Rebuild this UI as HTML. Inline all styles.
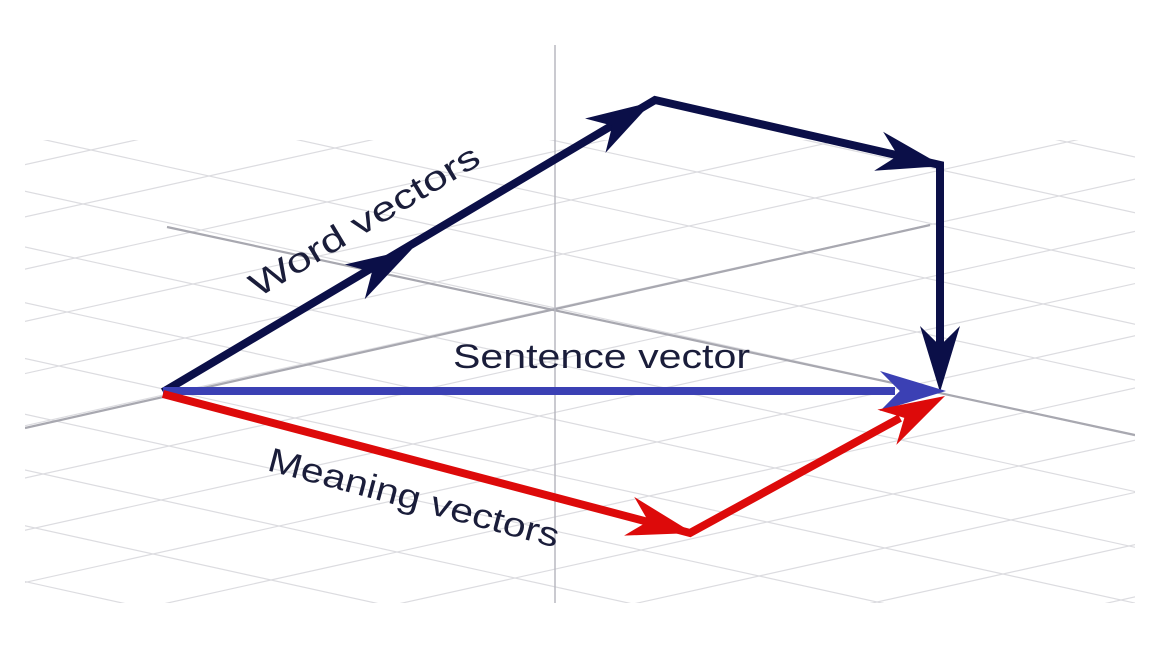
<!DOCTYPE html>
<html><head><meta charset="utf-8"><style>
html,body{margin:0;padding:0;background:#fff;width:1152px;height:648px;overflow:hidden}
svg{display:block}
svg text{font-family:"Liberation Sans",sans-serif;fill:#1a1d3a}
</style></head><body>
<svg id="s" width="1152" height="648" viewBox="0 0 1152 648" xmlns="http://www.w3.org/2000/svg">
<defs><clipPath id="c"><rect x="25" y="140" width="1110" height="463"/></clipPath></defs>
<g id="grid" clip-path="url(#c)" stroke="#dcdce0" stroke-width="1.2"></g>
<g clip-path="url(#c)" stroke="#a8a8b0" stroke-width="2.2">
<line x1="25" y1="428" x2="930" y2="225"/>
<line x1="167" y1="227" x2="1135" y2="435"/>
</g>
<line x1="555" y1="45" x2="555" y2="603" stroke="#b8b8c0" stroke-width="1.5"/>

<g stroke-linecap="butt" fill="none" stroke-width="8">
<polyline points="163,392 655,100 940,165 940,360" stroke="#0b0f48"/>
<line x1="163" y1="391" x2="895" y2="391" stroke="#3b40b4"/>
<polyline points="163,394 690,533 900,418" stroke="#dd0a0a"/>
</g>
<g id="heads"></g>

<text x="0" y="0" font-size="34" textLength="262" lengthAdjust="spacingAndGlyphs" transform="translate(258,298) rotate(-31)">Word vectors</text>
<text x="453" y="368" font-size="34" textLength="297" lengthAdjust="spacingAndGlyphs">Sentence vector</text>
<text x="0" y="0" font-size="34" textLength="300" lengthAdjust="spacingAndGlyphs" transform="translate(266,470) rotate(15)">Meaning vectors</text>
</svg>
<script>
var ns='http://www.w3.org/2000/svg';
var g=document.getElementById('grid'),O=[555,308],a=[126,-28],b=[118,26];
function L(p,q){var l=document.createElementNS(ns,'line');l.setAttribute('x1',p[0]);l.setAttribute('y1',p[1]);l.setAttribute('x2',q[0]);l.setAttribute('y2',q[1]);g.appendChild(l);}
function P(u,v){return [O[0]+u*a[0]+v*b[0],O[1]+u*a[1]+v*b[1]];}
for(var i=-8;i<=8;i++){L(P(i,-10),P(i,10));L(P(-10,i),P(10,i));}
var h=document.getElementById('heads');
function H(tx,ty,fx,fy,col){var dx=tx-fx,dy=ty-fy,m=Math.hypot(dx,dy);dx/=m;dy/=m;var nx=-dy,ny=dx,Ln=66,W=20;
var pts=[[tx,ty],[tx-dx*Ln+nx*W,ty-dy*Ln+ny*W],[tx-dx*Ln*0.7,ty-dy*Ln*0.7],[tx-dx*Ln-nx*W,ty-dy*Ln-ny*W]];
var p=document.createElementNS(ns,'polygon');p.setAttribute('points',pts.map(function(q){return q[0]+','+q[1]}).join(' '));p.setAttribute('fill',col);h.appendChild(p);}
var N='#0b0f48';
H(412,249,163,392,N);H(652,102,163,392,N);H(943,166,655,100,N);H(940,392,940,165,N);
H(946,391,163,391,'#3b40b4');
H(693,533,163,394,'#dd0a0a');H(945,396,690,533,'#dd0a0a');
</script>
</body></html>
